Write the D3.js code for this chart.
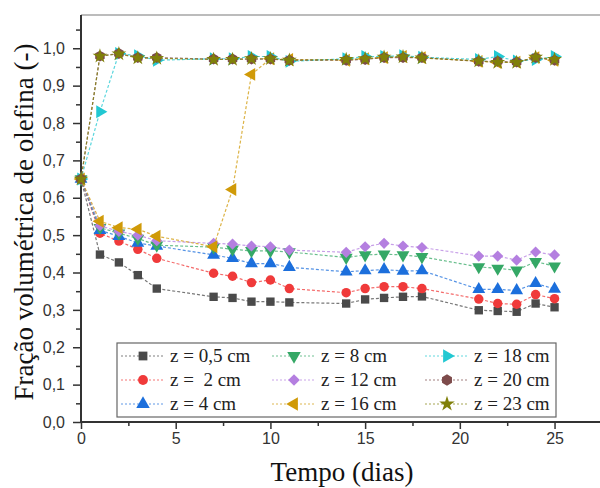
<!DOCTYPE html>
<html>
<head>
<meta charset="utf-8">
<script src="https://cdn.jsdelivr.net/npm/d3@7"></script>
<style>
  body { margin: 0; background: #fff; }
  svg { display: block; }
</style>
</head>
<body>
<div id="chart"></div>
<script>
const days = [0, 1, 2, 3, 4, 7, 8, 9, 10, 11, 14, 15, 16, 17, 18, 21, 22, 23, 24, 25];

const z05 = [0.650, 0.448, 0.427, 0.393, 0.357, 0.335, 0.332, 0.322, 0.322, 0.320, 0.317, 0.328, 0.332, 0.335, 0.336, 0.299, 0.297, 0.295, 0.317, 0.307];
const z2  = [0.650, 0.505, 0.484, 0.462, 0.438, 0.398, 0.390, 0.373, 0.380, 0.357, 0.346, 0.357, 0.362, 0.362, 0.357, 0.329, 0.317, 0.315, 0.341, 0.330];
const z4  = [0.650, 0.513, 0.497, 0.479, 0.471, 0.447, 0.438, 0.424, 0.424, 0.414, 0.402, 0.405, 0.408, 0.404, 0.405, 0.355, 0.355, 0.352, 0.371, 0.356];
const z8  = [0.650, 0.520, 0.505, 0.491, 0.473, 0.468, 0.462, 0.458, 0.458, 0.455, 0.440, 0.447, 0.449, 0.447, 0.442, 0.415, 0.411, 0.406, 0.429, 0.417];
const z12 = [0.650, 0.525, 0.510, 0.500, 0.485, 0.478, 0.476, 0.471, 0.469, 0.460, 0.454, 0.469, 0.478, 0.471, 0.467, 0.444, 0.444, 0.433, 0.455, 0.447];
const z16 = [0.650, 0.537, 0.520, 0.516, 0.497, 0.469, 0.622, 0.930, 0.972, 0.970, 0.968, 0.972, 0.975, 0.978, 0.975, 0.965, 0.962, 0.963, 0.975, 0.968];
const z18 = [0.650, 0.830, 0.986, 0.980, 0.968, 0.972, 0.972, 0.978, 0.978, 0.965, 0.972, 0.978, 0.978, 0.980, 0.976, 0.970, 0.978, 0.966, 0.970, 0.978];
const z20 = [0.650, 0.979, 0.986, 0.975, 0.975, 0.971, 0.971, 0.971, 0.971, 0.968, 0.968, 0.970, 0.975, 0.975, 0.975, 0.965, 0.965, 0.963, 0.975, 0.968];
const z23 = [0.650, 0.979, 0.985, 0.974, 0.973, 0.970, 0.970, 0.972, 0.972, 0.968, 0.970, 0.972, 0.976, 0.977, 0.974, 0.966, 0.962, 0.962, 0.976, 0.970];

const labels = ["z = 0,5 cm", "z =  2 cm", "z = 4 cm", "z = 8 cm", "z = 12 cm", "z = 16 cm", "z = 18 cm", "z = 20 cm", "z = 23 cm"];
const colors = ["#4a4a4a", "#f03a3a", "#1c6fdc", "#35a866", "#b47fe0", "#d09a08", "#22c8d2", "#7d4b4b", "#80800a"];
const xTicks = [0, 5, 10, 15, 20, 25];
const yTicks = [0, 0.1, 0.2, 0.3, 0.4, 0.5, 0.6, 0.7, 0.8, 0.9, 1.0];

const allValues = [z05, z2, z4, z8, z12, z16, z18, z20, z23];

// hexagon symbol, d3 has none
const symbolHexagon = {
  draw(ctx, size) {
    const r = Math.sqrt(size / (1.5 * Math.sqrt(3)));
    for (let i = 0; i < 6; i++) {
      const a = Math.PI / 6 + i * Math.PI / 3;
      if (i === 0) ctx.moveTo(r * Math.cos(a), r * Math.sin(a));
      else ctx.lineTo(r * Math.cos(a), r * Math.sin(a));
    }
    ctx.closePath();
  }
};

// symbol type, size, rotation per series
const marks = [
  [d3.symbolSquare, 70, 0],
  [d3.symbolCircle, 70, 0],
  [d3.symbolTriangle, 72, 0],
  [d3.symbolTriangle, 72, 180],
  [d3.symbolSquare, 62, 45],
  [d3.symbolTriangle, 72, -90],
  [d3.symbolTriangle, 72, 90],
  [symbolHexagon, 78, 0],
  [d3.symbolStar, 68, 0]
];

const W = 600, H = 488;
const svg = d3.select('#chart').append('svg').attr('width', W).attr('height', H);

const x = d3.scaleLinear().domain([0, 27.4]).range([81, 600]);
const y = d3.scaleLinear().domain([0, 1.089]).range([422, 15]);

// top frame line
svg.append('line').attr('x1', 81).attr('x2', 600).attr('y1', 15).attr('y2', 15)
  .attr('stroke', '#bcbcbc').attr('stroke-width', 2);

// axes
const xAxis = svg.append('g').attr('transform', 'translate(0,422)')
  .call(d3.axisBottom(x).tickValues(xTicks).tickFormat(d3.format('d')).tickSize(7).tickPadding(4));
svg.append('g').attr('transform', 'translate(0,422)')
  .call(d3.axisBottom(x).tickValues(d3.range(2.5, 27, 5)).tickFormat('').tickSize(4))
  .select('.domain').remove();

const yAxis = svg.append('g').attr('transform', 'translate(81,0)')
  .call(d3.axisLeft(y).tickValues(yTicks).tickFormat(d => d3.format('.1f')(d).replace('.', ',')).tickSize(8).tickPadding(8));
svg.append('g').attr('transform', 'translate(81,0)')
  .call(d3.axisLeft(y).tickValues(d3.range(0.05, 1.09, 0.1)).tickFormat('').tickSize(5))
  .select('.domain').remove();

svg.selectAll('.domain').attr('stroke', '#333').attr('stroke-width', 2);
svg.selectAll('.tick line').attr('stroke', '#333').attr('stroke-width', 1.5);
svg.selectAll('.tick text').attr('fill', '#333')
  .style('font-family', '"Liberation Sans", Arial, sans-serif').style('font-size', '16px');
xAxis.select('.domain').attr('d', 'M81,0H600');
yAxis.select('.domain').attr('d', 'M0,15V423');

// series
const line = d3.line().x((d, i) => x(days[i])).y(d => y(d));
allValues.forEach((vals, k) => {
  const g = svg.append('g');
  g.append('path').attr('d', line(vals)).attr('fill', 'none')
    .attr('stroke', colors[k]).attr('stroke-width', 1.2).attr('stroke-dasharray', '3,2').attr('opacity', 0.75);
  const sym = d3.symbol().type(marks[k][0]).size(marks[k][1]);
  g.selectAll('path.pt').data(vals).join('path').attr('class', 'pt')
    .attr('d', sym)
    .attr('transform', (d, i) => `translate(${x(days[i])},${y(d)}) rotate(${marks[k][2]})`)
    .attr('fill', colors[k]);
});

// legend
const lg = svg.append('g');
lg.append('rect').attr('x', 117).attr('y', 343).attr('width', 439).attr('height', 74)
  .attr('fill', '#fff').attr('stroke', '#666').attr('stroke-width', 1.2);
const colX = [121, 272, 425];
const rowY = [356, 380, 404];
labels.forEach((lab, k) => {
  const cx = colX[Math.floor(k / 3)], cy = rowY[k % 3];
  lg.append('line').attr('x1', cx).attr('x2', cx + 44).attr('y1', cy).attr('y2', cy)
    .attr('stroke', colors[k]).attr('stroke-width', 1).attr('stroke-dasharray', '2,2').attr('opacity', 0.7);
  lg.append('path').attr('d', d3.symbol().type(marks[k][0]).size(marks[k][1] * 1.1)())
    .attr('transform', `translate(${cx + 22},${cy}) rotate(${marks[k][2]})`).attr('fill', colors[k]);
  lg.append('text').text(lab).attr('x', cx + 49).attr('y', cy + 6)
    .attr('fill', '#222').style('white-space', 'pre')
    .style('font-family', '"Liberation Serif", "Times New Roman", serif').style('font-size', '19px');
});

// axis titles
svg.append('text').text('Tempo (dias)').attr('x', 342).attr('y', 481).attr('text-anchor', 'middle')
  .attr('fill', '#111').style('font-family', '"Liberation Serif", "Times New Roman", serif').style('font-size', '27px');
svg.append('text').text('Fração volumétrica de olefina (-)')
  .attr('transform', 'translate(33,222) rotate(-90)').attr('text-anchor', 'middle')
  .attr('fill', '#111').style('font-family', '"Liberation Serif", "Times New Roman", serif').style('font-size', '27px');
</script>
</body>
</html>
